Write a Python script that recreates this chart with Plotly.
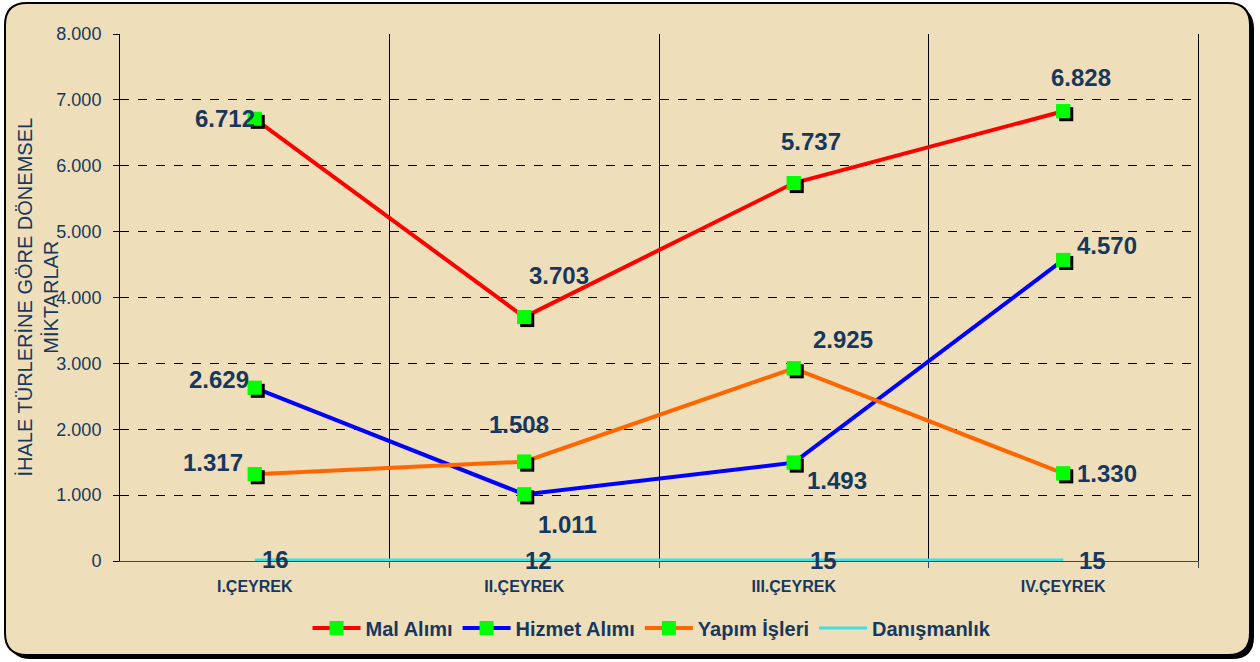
import plotly.graph_objects as go

categories = ["I.ÇEYREK", "II.ÇEYREK", "III.ÇEYREK", "IV.ÇEYREK"]
mal_alimi = [6712, 3703, 5737, 6828]
hizmet_alimi = [2629, 1011, 1493, 4570]
yapim_isleri = [1317, 1508, 2925, 1330]
danismanlik = [16, 12, 15, 15]
y_ticks = [0, 1000, 2000, 3000, 4000, 5000, 6000, 7000, 8000]

# label offsets in pixels (style)
mal_off = [(-30, 0), (35, 42), (17, 42), (18, 34)]
hiz_off = [(-36, 8), (43, -30), (43, -18), (44, 14)]
yap_off = [(-42, 12), (-5, 37), (49, 29), (44, 0)]
dan_off = [(21, 0), (14, 0), (30, 0), (29, 0)]

W, H = 1260, 662
L, R, T, B = 120, 62, 34, 101
PW, PH = W - L - R, H - T - B
NAVY = "#17375E"
FONT = "Liberation Sans, Arial, sans-serif"

def px(xp):
    return (xp - L) / PW

def py(yp):
    return (H - B - yp) / PH

def rrect(x0, y0, x1, y1, r):
    pts = [
        f"M {px(x0 + r)},{py(y0)}",
        f"L {px(x1 - r)},{py(y0)}",
        f"Q {px(x1)},{py(y0)} {px(x1)},{py(y0 + r)}",
        f"L {px(x1)},{py(y1 - r)}",
        f"Q {px(x1)},{py(y1)} {px(x1 - r)},{py(y1)}",
        f"L {px(x0 + r)},{py(y1)}",
        f"Q {px(x0)},{py(y1)} {px(x0)},{py(y1 - r)}",
        f"L {px(x0)},{py(y0 + r)}",
        f"Q {px(x0)},{py(y0)} {px(x0 + r)},{py(y0)}",
        "Z",
    ]
    return " ".join(pts)

x_idx = list(range(len(categories)))
xr = [-0.5, len(categories) - 0.5]
yr = [0, 8000]
sx, sy = 3, 3
dx = sx * (xr[1] - xr[0]) / PW
dy = sy * (yr[1] - yr[0]) / PH
boundaries = [i + 0.5 for i in x_idx]

series = [
    ("Mal Alımı", mal_alimi, "#FF0000", mal_off),
    ("Hizmet Alımı", hizmet_alimi, "#0000FF", hiz_off),
    ("Yapım İşleri", yapim_isleri, "#FF6600", yap_off),
]

fig = go.Figure()
for name, vals, col, _ in series:
    fig.add_trace(go.Scatter(
        x=x_idx, y=vals, name=name, mode="lines+markers",
        line=dict(color=col, width=4),
        marker=dict(symbol="square", size=14, color="#00FF00"),
        xaxis="x", yaxis="y",
    ))
fig.add_trace(go.Scatter(
    x=x_idx, y=danismanlik, name="Danışmanlık", mode="lines",
    line=dict(color="#3EE0E0", width=3), cliponaxis=False,
    xaxis="x", yaxis="y",
))
# shadows
for name, vals, col, _ in series:
    fig.add_trace(go.Scatter(
        x=x_idx, y=vals, mode="markers", showlegend=False, hoverinfo="skip",
        marker=dict(symbol="square", size=14, color="#000000"),
        xaxis="x2", yaxis="y2", cliponaxis=False,
    ))
# top markers
for name, vals, col, _ in series:
    fig.add_trace(go.Scatter(
        x=x_idx, y=vals, mode="markers", showlegend=False, hoverinfo="skip",
        marker=dict(symbol="square", size=14, color="#00FF00"),
        xaxis="x3", yaxis="y3", cliponaxis=False,
    ))

def fmt(v):
    return f"{v:,}".replace(",", ".")

annotations = []
for name, vals, col, offs in series + [("Danışmanlık", danismanlik, None, dan_off)]:
    for i, v in enumerate(vals):
        annotations.append(dict(
            x=i, y=v, xref="x", yref="y", text=fmt(v), showarrow=False,
            xshift=offs[i][0], yshift=offs[i][1],
            font=dict(family=FONT, size=24, color=NAVY, weight="bold"),
        ))
annotations.append(dict(
    x=px(37), y=0.5, xref="paper", yref="paper", xanchor="center", yanchor="middle",
    text="İHALE TÜRLERİNE GÖRE DÖNEMSEL<br>MİKTARLAR", showarrow=False, textangle=-90,
    font=dict(family=FONT, size=20, color=NAVY),
))

shapes = [
    dict(type="path", xref="paper", yref="paper", path=rrect(9, 7, 1254, 659, 22),
         fillcolor="#000000", line=dict(width=0), layer="below"),
    dict(type="path", xref="paper", yref="paper", path=rrect(5, 3, 1250, 655, 22),
         fillcolor="#EEDFBA", line=dict(color="#000000", width=2), layer="below"),
]

fig.update_layout(
    width=W, height=H,
    margin=dict(l=L, r=R, t=T, b=B),
    paper_bgcolor="#FFFFFF", plot_bgcolor="rgba(0,0,0,0)",
    separators=",.",
    showlegend=True,
    legend=dict(orientation="h", x=px(652), y=py(628), xanchor="center", yanchor="middle",
                font=dict(family=FONT, size=20, color=NAVY, weight="bold"),
                bgcolor="rgba(0,0,0,0)", itemwidth=48, traceorder="normal"),
    xaxis=dict(
        type="linear", range=xr, tickvals=boundaries, ticktext=["" for _ in boundaries],
        showgrid=True, gridcolor="#000000", gridwidth=1,
        zeroline=False, showline=True, linecolor="#2E4A6B", linewidth=1,
        ticks="outside", ticklen=6, tickcolor="#2E4A6B",
    ),
    xaxis3=dict(
        range=xr, overlaying="x", anchor="y3", side="bottom",
        tickvals=x_idx, ticktext=categories, showgrid=False, zeroline=False,
        showline=False, ticks="",
        tickfont=dict(family=FONT, size=16, color=NAVY, weight="bold"),
        ticklabelstandoff=14,
    ),
    yaxis=dict(
        range=yr, tickvals=y_ticks, tickformat=",.0f",
        showgrid=True, gridcolor="#000000", gridwidth=1, griddash="dash",
        zeroline=False, showline=True, linecolor="#000000", linewidth=1, mirror=True,
        ticks="outside", ticklen=6, tickcolor="#000000",
        tickfont=dict(family=FONT, size=18, color=NAVY), ticklabelstandoff=8,
    ),
    xaxis2=dict(range=[xr[0] - dx, xr[1] - dx], overlaying="x", visible=False),
    yaxis2=dict(range=[yr[0] + dy, yr[1] + dy], overlaying="y", visible=False),
    yaxis3=dict(range=yr, overlaying="y", visible=False),
    annotations=annotations,
    shapes=shapes,
)

fig.write_html("out.html", config={"displayModeBar": False},
               post_script="document.body.style.margin='0';document.body.style.overflow='hidden';")
